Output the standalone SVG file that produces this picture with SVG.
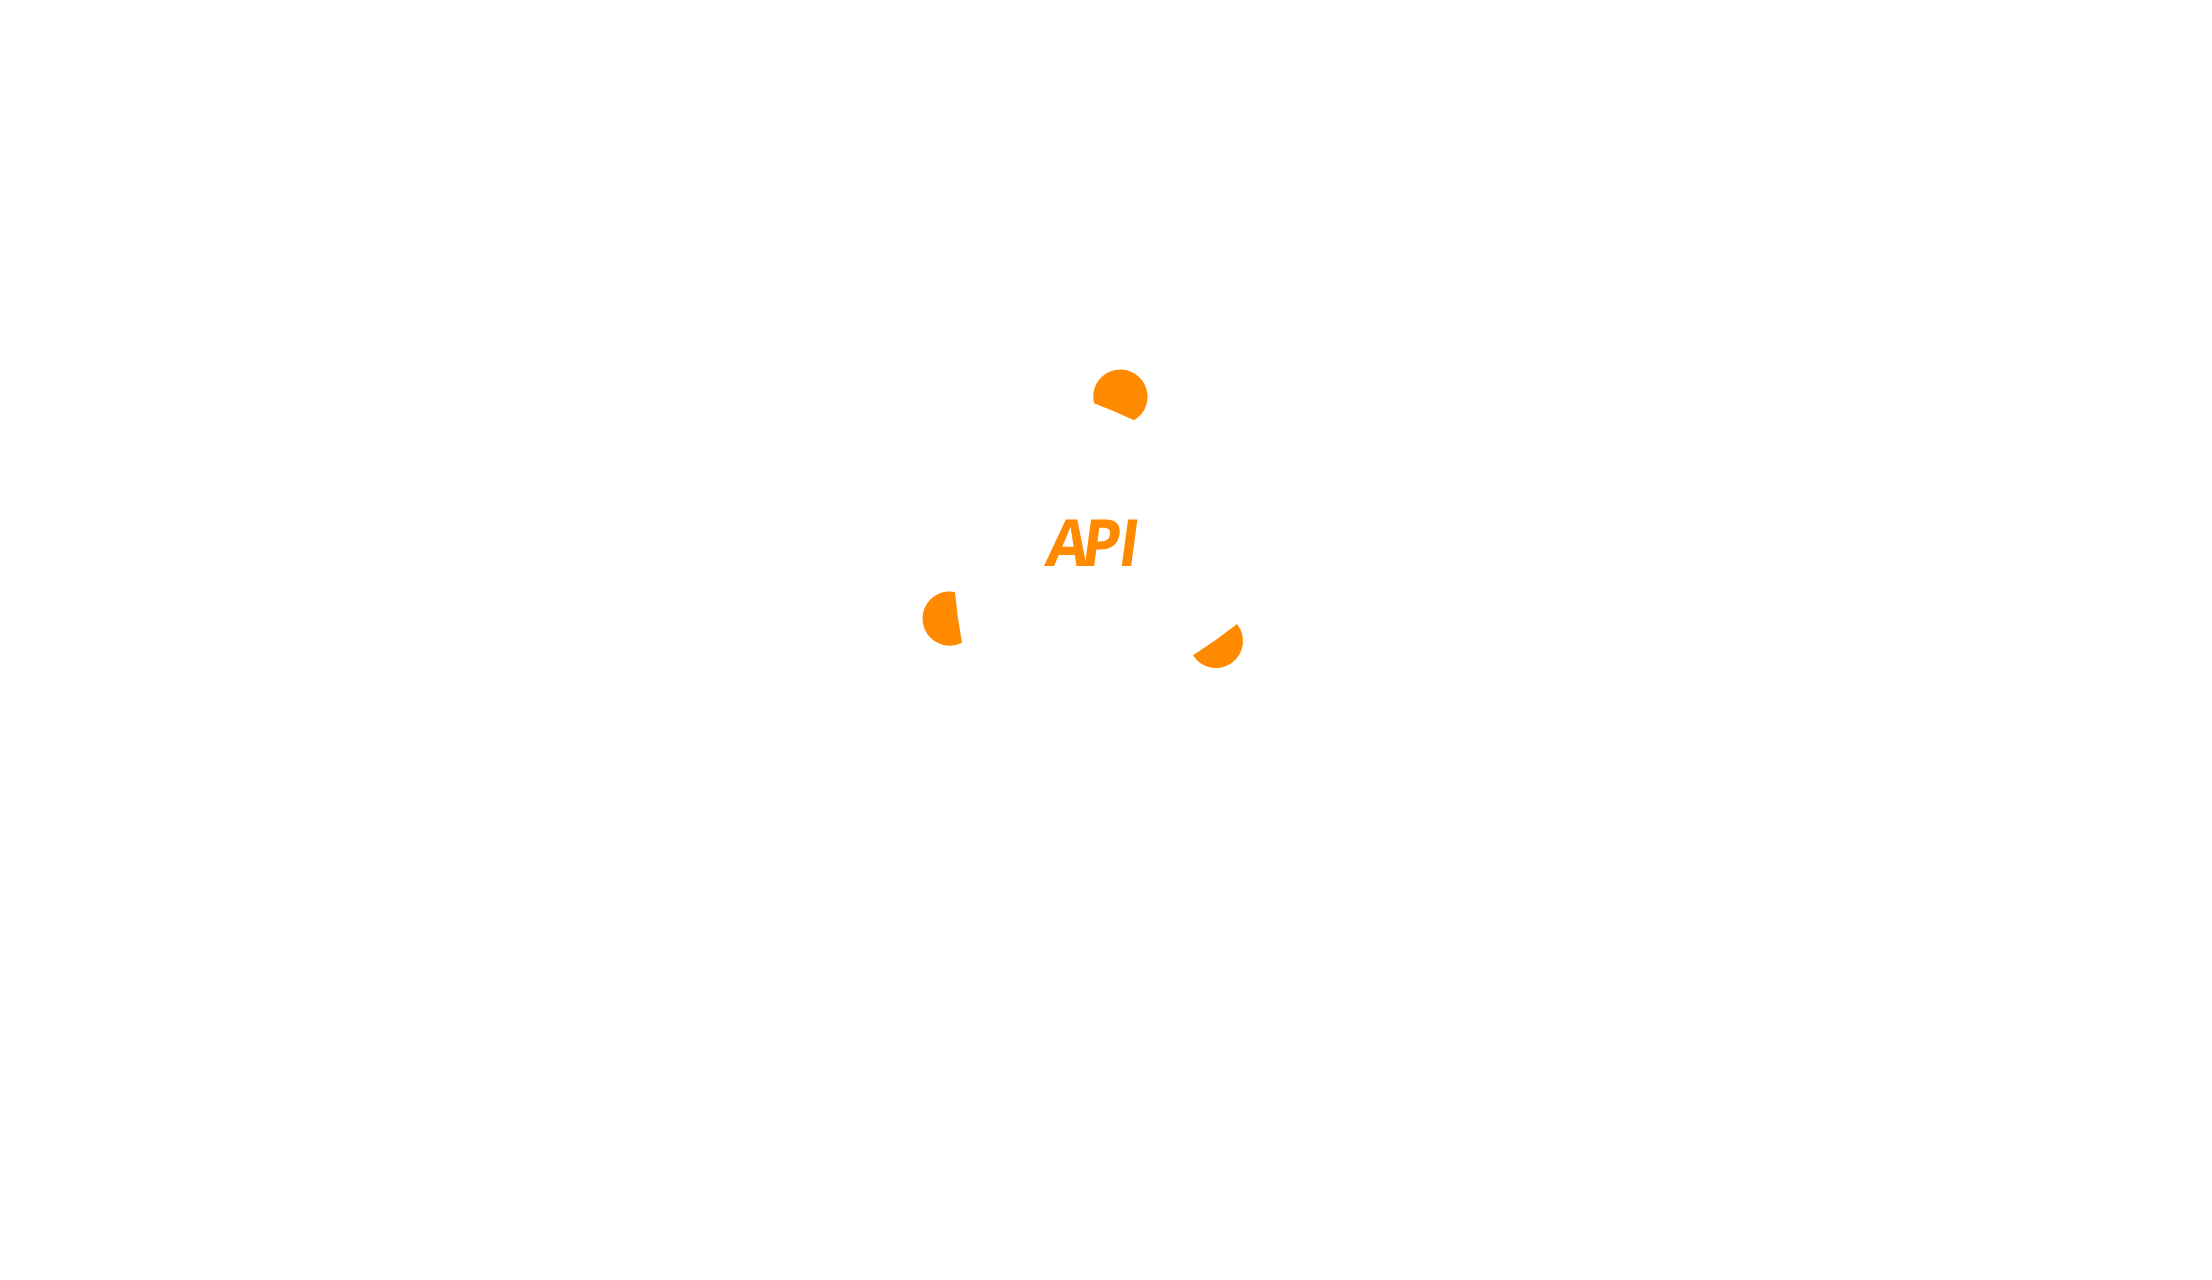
<svg xmlns="http://www.w3.org/2000/svg" width="2212" height="1280" viewBox="0 0 2212 1280">
<style>
.dot{fill:#ff8a00}
.label{fill:#ff8a00;font-family:"Open Sans","Liberation Sans",sans-serif;font-weight:700;font-size:65px}
</style>
<rect width="2212" height="1280" fill="#ffffff"/>
<g id="dot-top"><path class="dot" d="M1094 403.3A27.2 27.2 0 1 1 1134 420.3A500 500 0 0 0 1094 403.3Z"/></g>
<g id="dot-left"><path class="dot" d="M955 592A27.1 27.1 0 1 0 962 642.7A500 500 0 0 1 955 592Z"/></g>
<g id="dot-right"><path class="dot" d="M1237 624A27.05 27.05 0 1 1 1193 655.3A500 500 0 0 0 1237 624Z"/></g>
<g id="label-api"><text class="label" transform="translate(1044,566) skewX(-7.7) scale(.95,1)" x="0 37 76" y="0">API</text></g>
</svg>
